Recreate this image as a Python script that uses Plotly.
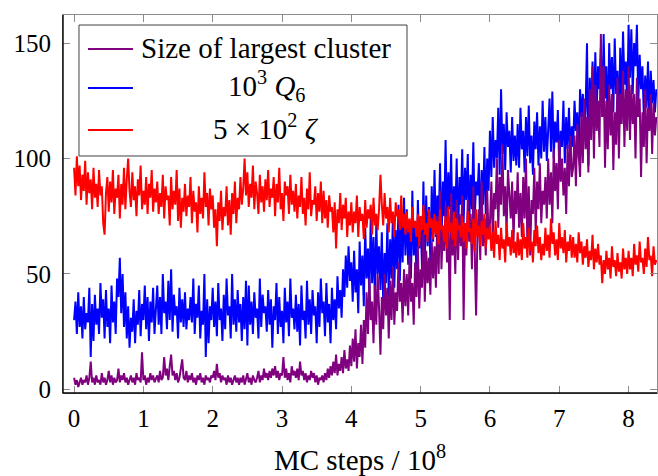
import numpy as np
import plotly.graph_objects as go

# Sampling grid: MC steps in units of 1e8 (0 ... 8.4, step 0.02)
mc_steps = np.round(np.arange(421) * 0.02, 2)

# Size of largest cluster
cluster_size = [
    5, 2, 4, 1, 3, 5, 2, 4, 3, 6, 2, 5, 12, 3, 5, 2, 6, 3, 4, 2,
    7, 3, 5, 2, 4, 8, 3, 6, 2, 5, 3, 4, 9, 3, 6, 4, 7, 3, 5, 2,
    4, 6, 3, 5, 2, 7, 4, 5, 3, 16, 4, 6, 2, 5, 3, 7, 4, 6, 3, 5,
    6, 3, 8, 4, 5, 14, 6, 9, 4, 10, 15, 6, 8, 4, 7, 3, 5, 9, 13, 5,
    4, 8, 3, 6, 4, 7, 3, 5, 2, 6, 4, 7, 3, 5, 2, 6, 4, 5, 3, 6,
    5, 8, 4, 11, 5, 7, 3, 6, 4, 5, 2, 6, 3, 5, 2, 4, 6, 3, 5, 2,
    5, 3, 6, 2, 4, 7, 3, 5, 2, 6, 4, 3, 5, 8, 3, 6, 4, 9, 5, 7,
    4, 8, 5, 9, 6, 10, 5, 8, 4, 7, 6, 14, 5, 9, 4, 7, 3, 10, 6, 8,
    5, 9, 4, 12, 6, 8, 4, 7, 3, 6, 4, 8, 5, 7, 3, 6, 2, 5, 4, 6,
    3, 7, 4, 9, 5, 10, 6, 12, 7, 15, 6, 11, 8, 14, 7, 17, 9, 13, 8, 19,
    10, 22, 12, 26, 9, 20, 14, 28, 11, 30, 18, 42, 24, 48, 30, 38, 20, 45, 28, 50,
    35, 15, 40, 26, 50, 32, 44, 22, 47, 30, 53, 28, 42, 34, 55, 38, 46, 29, 52, 36,
    50, 32, 58, 38, 46, 28, 55, 40, 62, 35, 52, 44, 68, 38, 60, 46, 57, 41, 64, 48,
    62, 44, 75, 50, 86, 52, 70, 60, 80, 55, 72, 30, 85, 58, 70, 50, 82, 56, 76, 62,
    84, 30, 70, 58, 82, 64, 76, 52, 88, 60, 32, 68, 78, 56, 90, 62, 74, 58, 86, 66,
    72, 90, 66, 85, 78, 100, 70, 92, 80, 106, 75, 88, 68, 95, 82, 74, 90, 64, 86, 76,
    94, 70, 85, 66, 92, 74, 100, 62, 88, 58, 82, 76, 96, 68, 90, 78, 98, 72, 86, 80,
    92, 74, 100, 80, 94, 72, 104, 86, 98, 78, 108, 90, 100, 84, 96, 76, 106, 88, 110, 92,
    96, 110, 88, 115, 102, 92, 120, 98, 126, 104, 118, 94, 130, 108, 140, 100, 132, 112, 125, 105,
    154, 118, 140, 96, 125, 104, 132, 110, 128, 95, 120, 106, 135, 100, 128, 115, 138, 105, 130, 112,
    140, 108, 132, 115, 128, 100, 135, 118, 126, 92, 120, 105, 130, 98, 122, 112, 128, 102, 124, 110,
    118,
]

# 10^3 Q6
q6_scaled = [
    30, 38, 24, 42, 27, 36, 22, 40, 26, 33, 29, 44, 14, 37, 21, 41, 28, 35, 24, 46,
    31, 39, 22, 43, 27, 35, 20, 45, 29, 38, 24, 48, 40, 57, 33, 50, 27, 42, 22, 36,
    18, 31, 25, 39, 20, 34, 28, 43, 23, 37, 30, 45, 26, 40, 21, 38, 29, 44, 24, 35,
    45, 28, 40, 24, 50, 33, 38, 26, 47, 30, 52, 25, 41, 32, 36, 22, 44, 29, 39, 27,
    42, 26, 35, 30, 40, 29, 48, 24, 37, 31, 45, 22, 34, 28, 50, 14, 39, 20, 36, 30,
    44, 27, 38, 23, 46, 30, 35, 21, 41, 26, 48, 32, 36, 22, 50, 28, 39, 25, 43, 29,
    37, 21, 40, 26, 47, 19, 45, 28, 38, 24, 42, 31, 35, 22, 48, 27, 41, 33, 36, 25,
    43, 28, 39, 18, 36, 30, 46, 24, 40, 27, 34, 20, 44, 29, 38, 23, 48, 31, 35, 26,
    41, 25, 37, 19, 45, 30, 34, 22, 47, 28, 39, 24, 43, 32, 36, 20, 42, 27, 48, 33,
    38, 23, 46, 29, 37, 20, 44, 30, 39, 26, 49, 35, 43, 31, 52, 40, 58, 44, 62, 47,
    55, 38, 60, 42, 52, 33, 64, 45, 58, 36, 70, 48, 61, 40, 75, 46, 66, 39, 72, 50,
    62, 43, 68, 37, 59, 46, 72, 40, 65, 48, 76, 44, 69, 52, 80, 47, 74, 55, 83, 58,
    78, 54, 72, 48, 86, 58, 70, 50, 82, 61, 75, 52, 90, 57, 84, 62, 79, 55, 88, 64,
    95, 66, 84, 72, 98, 62, 90, 75, 108, 70, 94, 78, 102, 68, 88, 74, 100, 65, 92, 80,
    104, 72, 96, 82, 102, 70, 93, 78, 107, 74, 90, 84, 98, 68, 95, 80, 105, 76, 100, 86,
    112, 92, 118, 96, 108, 100, 122, 93, 130, 102, 115, 95, 120, 105, 112, 94, 118, 99, 110, 97,
    115, 96, 122, 104, 112, 94, 118, 101, 123, 98, 110, 93, 116, 104, 120, 97, 114, 100, 125, 103,
    118, 99, 112, 126, 103, 129, 100, 116, 107, 121, 95, 112, 105, 125, 98, 118, 104, 122, 101, 114,
    105, 125, 112, 120, 100, 130, 118, 128, 108, 122, 150, 97, 135, 120, 142, 116, 146, 122, 140, 130,
    148, 118, 154, 126, 140, 112, 150, 130, 144, 120, 152, 128, 138, 115, 148, 125, 155, 132, 142, 122,
    158, 135, 156, 128, 150, 140, 158, 124, 145, 130, 140, 118, 136, 122, 142, 116, 138, 124, 134, 120,
    130,
]

# 5 x 10^2 zeta
zeta_scaled = [
    96, 84, 101, 88, 97, 82, 93, 86, 99, 80, 94, 85, 91, 78, 96, 83, 89, 79, 95, 84,
    88, 72, 67, 85, 92, 77, 90, 81, 95, 76, 87, 83, 93, 74, 89, 80, 96, 78, 91, 100,
    86, 79, 94, 82, 88, 75, 91, 84, 97, 78, 86, 80, 92, 76, 89, 83, 95, 77, 87, 81,
    90, 76, 85, 79, 93, 74, 88, 82, 84, 71, 92, 78, 86, 80, 95, 73, 87, 70, 83, 77,
    89, 75, 84, 79, 92, 72, 86, 77, 81, 68, 88, 76, 83, 74, 94, 79, 85, 71, 87, 78,
    84, 70, 78, 62, 81, 73, 86, 69, 79, 75, 88, 71, 82, 67, 85, 76, 90, 72, 83, 78,
    92, 80, 87, 100, 84, 94, 79, 89, 83, 97, 78, 90, 85, 76, 93, 81, 88, 77, 91, 82,
    95, 79, 87, 83, 92, 75, 89, 81, 96, 78, 85, 73, 90, 84, 88, 76, 93, 80, 86, 77,
    89, 74, 84, 79, 92, 76, 83, 71, 87, 78, 94, 75, 82, 80, 88, 73, 85, 77, 90, 72,
    86, 74, 82, 70, 84, 77, 79, 68, 81, 61, 78, 72, 85, 69, 80, 74, 83, 66, 77, 71,
    81, 68, 77, 72, 84, 66, 79, 73, 76, 65, 82, 70, 78, 74, 80, 67, 83, 71, 76, 69,
    78, 93, 80, 71, 85, 74, 79, 68, 83, 72, 77, 66, 81, 75, 78, 69, 84, 70, 76, 67,
    77, 68, 74, 64, 79, 70, 73, 66, 76, 62, 75, 69, 80, 67, 72, 64, 78, 70, 74, 65,
    76, 67, 73, 63, 78, 69, 71, 64, 75, 61, 79, 68, 72, 65, 77, 62, 74, 69, 71, 66,
    75, 64, 72, 61, 77, 68, 70, 63, 74, 60, 78, 66, 71, 62, 73, 67, 76, 61, 70, 65,
    71, 60, 68, 57, 73, 63, 67, 56, 70, 61, 65, 55, 72, 62, 66, 58, 69, 59, 64, 57,
    68, 58, 65, 56, 72, 61, 66, 57, 70, 60, 64, 55, 69, 62, 71, 59, 66, 56, 63, 58,
    70, 60, 67, 57, 74, 63, 68, 58, 65, 56, 72, 61, 66, 59, 69, 55, 64, 60, 67, 57,
    66, 57, 63, 55, 68, 59, 64, 54, 62, 57, 65, 53, 60, 56, 67, 52, 61, 55, 63, 54,
    58, 46, 56, 50, 60, 52, 57, 48, 62, 53, 56, 49, 59, 51, 55, 48, 61, 52, 57, 50,
    60, 52, 57, 49, 63, 54, 58, 51, 64, 55, 57, 50, 61, 53, 66, 56, 58, 49, 62, 54,
    56,
]

assert len(cluster_size) == len(q6_scaled) == len(zeta_scaled) == len(mc_steps)

x_ticks = [0, 1, 2, 3, 4, 5, 6, 7, 8]
y_ticks = [0, 50, 100, 150]

PURPLE = "#800080"
BLUE = "#0000ff"
RED = "#ff0000"
FONT = "'Liberation Serif', 'DejaVu Serif', serif"
LW = 2.0

fig = go.Figure()
# drawing order: Q6 underneath, then cluster size, then zeta on top
fig.add_trace(go.Scatter(x=mc_steps, y=q6_scaled, mode="lines", name="10³ Q6",
                         line=dict(color=BLUE, width=LW), showlegend=False))
fig.add_trace(go.Scatter(x=mc_steps, y=cluster_size, mode="lines", name="Size of largest cluster",
                         line=dict(color=PURPLE, width=LW), showlegend=False))
fig.add_trace(go.Scatter(x=mc_steps, y=zeta_scaled, mode="lines", name="5 × 10² ζ",
                         line=dict(color=RED, width=LW), showlegend=False))

axis_common = dict(
    showline=True, linecolor="#8c8c8c", linewidth=1, mirror="ticks",
    ticks="inside", ticklen=7, tickcolor="#8c8c8c", tickwidth=1,
    showgrid=False, zeroline=False,
    tickfont=dict(family=FONT, size=25, color="black"),
)

fig.update_layout(
    width=658, height=476,
    margin=dict(l=63, r=1, t=15, b=83),
    plot_bgcolor="white", paper_bgcolor="white",
    font=dict(family=FONT, color="black"),
    xaxis=dict(range=[-0.16, 8.41], tickvals=x_ticks, ticklabelstandoff=3,
               title=dict(text="MC steps / 10<sup>8</sup>", font=dict(family=FONT, size=29, color="black"),
                          standoff=18),
               **axis_common),
    yaxis=dict(range=[-1.6, 162.2], tickvals=y_ticks, ticklabelstandoff=6, **axis_common),
)

# dark axis lines on the left and bottom
fig.add_shape(type="line", xref="paper", yref="paper", x0=0, x1=0, y0=0, y1=1,
              line=dict(color="black", width=1.4), layer="above")
fig.add_shape(type="line", xref="paper", yref="paper", x0=0, x1=1, y0=0, y1=0,
              line=dict(color="black", width=1.4), layer="above")

# legend box with centred entries
fig.add_shape(type="rect", xref="paper", yref="paper", x0=0.0269, x1=0.5791, y0=0.627, y1=0.9735,
              fillcolor="white", line=dict(color="#404040", width=1), layer="above")
entries = [
    (PURPLE, "Size of largest cluster", 0.910, 0.912),
    (BLUE, "10<sup>3</sup> <i>Q</i><sub>6</sub>", 0.807, 0.812),
    (RED, "5 × 10<sup>2</sup> <i>ζ</i>", 0.696, 0.704),
]
for color, label, y_line, y_text in entries:
    fig.add_shape(type="line", xref="paper", yref="paper", x0=0.0421, x1=0.1178, y0=y_line, y1=y_line,
                  line=dict(color=color, width=2), layer="above")
    fig.add_annotation(xref="paper", yref="paper", x=0.3418, y=y_text, text=label, showarrow=False,
                       xanchor="center", yanchor="middle",
                       font=dict(family=FONT, size=29, color="black"))

fig.write_html("out.html")
